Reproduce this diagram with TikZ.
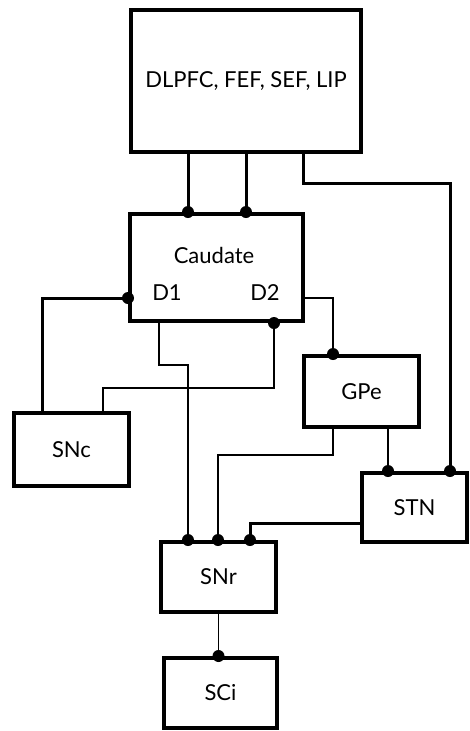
\documentclass[tikz,border=0pt]{standalone}
\usepackage{fontspec}
\setmainfont{Lato}
\usetikzlibrary{calc}
\usetikzlibrary{positioning}

\tikzset{
    area/.style={draw, line width=4pt, inner sep=0pt, font=\fontsize{22}{26}\selectfont},
    thickwire/.style={line width=3pt},
    thinwire/.style={line width=1.3pt},
    dot/.style={circle, fill, inner sep=0pt, minimum size=12pt}
}

\begin{document}
\begin{tikzpicture}[x=1pt, y=-1pt]
            \useasboundingbox (0,0) rectangle (470,731);

            % Boxes
            \node[area, minimum width=230pt, minimum height=142pt] (cortex) at (246,81) {DLPFC, FEF, SEF, LIP};
            \node[area, minimum width=173pt, minimum height=107pt] (caudate) at (216.5,267.5) {};
            \node (caudatelbl) at (214,255) {\fontsize{22}{26}\selectfont Caudate};
            \node (d1) at (167,293) {\fontsize{22}{26}\selectfont D1};
            \node (d2) at (265,293) {\fontsize{22}{26}\selectfont D2};
            \node[area, minimum width=115pt, minimum height=71pt] (gpe) at (361.5,391.5) {GPe};
            \node[area, minimum width=115pt, minimum height=73pt] (snc) at (71.5,449.5) {SNc};
            \node[area, minimum width=105pt, minimum height=69pt] (stn) at (414.5,507.5) {STN};
            \node[area, minimum width=115pt, minimum height=70pt] (snr) at (218.5,577) {SNr};
            \node[area, minimum width=113pt, minimum height=70pt] (sci) at (220.5,693) {SCi};

            % Cortex to caudate and STN
            \draw[thickwire] (cortex.south -| 188,0) -- (caudate.north -| 188,0) node[dot] {};
            \draw[thickwire] (cortex.south -| 246,0) -- (caudate.north -| 246,0) node[dot] {};
            \draw[thickwire] (cortex.south -| 303,0) -- (303,183) -| (stn.north -| 450,0) node[dot] {};

            % Caudate outputs
            \draw[thickwire] (snc.north -| 42,0) |- (caudate.west |- 0,298) node[dot] {};
            \draw[thinwire] (caudate.south -| 274,0) node[dot] {} -- (274,388) -| (snc.north -| 103,0);
            \draw[thinwire] (caudate.east |- 0,298) -| (gpe.north -| 333,0) node[dot] {};
            \draw[thinwire] (caudate.south -| 159,0) -- (159,365) -| (snr.north -| 188,0) node[dot] {};

            % GPe and STN
            \draw[thinwire] (gpe.south -| 333,0) -- (333,455) -| (snr.north -| 218,0) node[dot] {};
            \draw[thinwire] (gpe.south -| 388,0) -- (stn.north -| 388,0) node[dot] {};
            \draw[thickwire] (stn.west |- 0,523) -| (snr.north -| 250,0) node[dot] {};

            % SNr to SCi
            \draw[thinwire] (snr.south) -- (sci.north -| snr.south) node[dot] {};
\end{tikzpicture}
\end{document}
